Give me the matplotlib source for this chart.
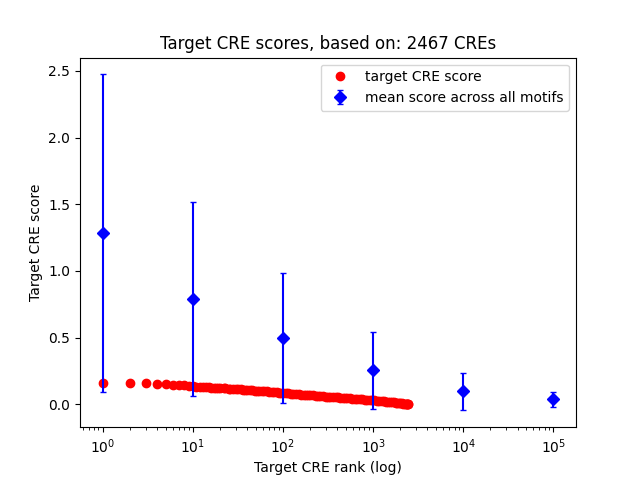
import matplotlib
matplotlib.use("Agg")
import matplotlib.pyplot as plt

# Target CRE scores (rank -> score)
cre_ranks = [1, 2, 3, 4, 5, 6, 7, 8, 9, 10, 11, 12, 13, 14, 15, 16, 17, 18, 19, 20,
             22, 23, 25, 26, 28, 30, 32, 34, 36, 38, 40, 43, 46, 49, 52, 55, 58, 62,
             66, 70, 75, 80, 85, 90, 95, 100, 107, 115, 122, 130, 140, 150, 160, 170,
             180, 190, 200, 215, 230, 245, 260, 280, 300, 315, 335, 360, 385, 410,
             435, 460, 490, 520, 555, 590, 630, 670, 715, 760, 810, 860, 915, 970,
             1030, 1100, 1170, 1250, 1320, 1400, 1480, 1550, 1620, 1700, 1780, 1850,
             1920, 2000, 2080, 2150, 2230, 2300, 2350, 2400, 2440, 2467]
cre_scores = [0.158, 0.158, 0.157, 0.153, 0.150, 0.147, 0.144, 0.141, 0.138, 0.134,
              0.132, 0.130, 0.128, 0.127, 0.126, 0.125, 0.124, 0.123, 0.122, 0.121,
              0.120, 0.119, 0.118, 0.117, 0.116, 0.114, 0.113, 0.111, 0.110, 0.109,
              0.108, 0.106, 0.104, 0.103, 0.101, 0.100, 0.099, 0.097, 0.096, 0.094,
              0.092, 0.090, 0.089, 0.087, 0.086, 0.084, 0.083, 0.081, 0.080, 0.078,
              0.076, 0.074, 0.073, 0.071, 0.070, 0.068, 0.067, 0.066, 0.064, 0.063,
              0.062, 0.060, 0.058, 0.057, 0.056, 0.054, 0.053, 0.051, 0.050, 0.048,
              0.047, 0.045, 0.044, 0.042, 0.041, 0.039, 0.038, 0.036, 0.035, 0.033,
              0.032, 0.030, 0.029, 0.027, 0.025, 0.023, 0.022, 0.020, 0.019, 0.017,
              0.016, 0.014, 0.013, 0.011, 0.010, 0.008, 0.007, 0.005, 0.004, 0.002,
              0.002, 0.001, 0.001, 0.000]

# Mean score across all motifs with std
motif_ranks = [1, 10, 100, 1000, 10000, 100000]
motif_means = [1.284, 0.790, 0.496, 0.255, 0.096, 0.036]
motif_stds = [1.190, 0.725, 0.488, 0.290, 0.142, 0.056]

fig, ax = plt.subplots(figsize=(6.4, 4.8), dpi=100)
ax.plot(cre_ranks, cre_scores, 'ro', label='target CRE score')
ax.errorbar(motif_ranks, motif_means, yerr=motif_stds, fmt='bD', capsize=2,
            label='mean score across all motifs')
ax.set_xscale('log')
ax.set_xlabel('Target CRE rank (log)')
ax.set_ylabel('Target CRE score')
ax.set_title('Target CRE scores, based on: 2467 CREs')
ax.legend(loc='upper right')
fig.savefig('out.png', dpi=100)
